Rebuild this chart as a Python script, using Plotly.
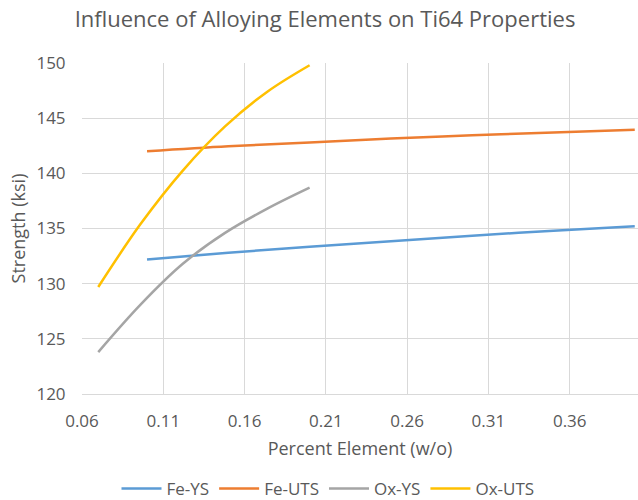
import plotly.graph_objects as go

# Data
fe_x = [0.10, 0.15, 0.20, 0.25, 0.30, 0.35, 0.40]
fe_ys = [132.2, 132.8, 133.35, 133.85, 134.35, 134.8, 135.2]
fe_uts = [142.0, 142.45, 142.8, 143.15, 143.45, 143.7, 143.95]

ox_x = [0.07, 0.096, 0.122, 0.148, 0.174, 0.20]
ox_ys = [123.8, 128.1, 131.8, 134.6, 136.8, 138.7]
ox_uts = [129.7, 135.4, 140.25, 144.25, 147.4, 149.8]

series_names = ["Fe-YS", "Fe-UTS", "Ox-YS", "Ox-UTS"]
colors = ["#5B9BD5", "#ED7D31", "#A5A5A5", "#FFC000"]

x_tick_vals = [0.06, 0.11, 0.16, 0.21, 0.26, 0.31, 0.36]
x_tick_text = ["0.06", "0.11", "0.16", "0.21", "0.26", "0.31", "0.36"]
y_tick_vals = [120, 125, 130, 135, 140, 145, 150]

font_family = "Open Sans"
txt_color = "#595959"

fig = go.Figure()
data = [(fe_x, fe_ys), (fe_x, fe_uts), (ox_x, ox_ys), (ox_x, ox_uts)]
for (xs, ys), name, c in zip(data, series_names, colors):
    fig.add_trace(go.Scatter(
        x=xs, y=ys, name=name, mode="lines",
        line=dict(color=c, width=2.5, shape="spline", smoothing=1.0),
    ))

fig.update_layout(
    width=638, height=500,
    paper_bgcolor="white", plot_bgcolor="white",
    margin=dict(l=82, r=0, t=63, b=106),
    font=dict(family=font_family, size=18, color=txt_color),
    title=dict(
        text="Influence of Alloying Elements on Ti64 Properties",
        x=325 / 638, xref="container", xanchor="center",
        y=1 - 19 / 500, yref="container", yanchor="middle",
        font=dict(family=font_family, size=22, color=txt_color),
    ),
    xaxis=dict(
        range=[0.06, 0.402],
        tickvals=x_tick_vals, ticktext=x_tick_text,
        showgrid=True, gridcolor="#D9D9D9", gridwidth=1,
        zeroline=False, showline=True, linecolor="#D9D9D9", linewidth=1,
        ticks="outside", ticklen=12, tickcolor="rgba(0,0,0,0)",
        tickfont=dict(size=17, color=txt_color),
        title=dict(text="Percent Element (w/o)", font=dict(size=18, color=txt_color), standoff=10),
    ),
    yaxis=dict(
        range=[120, 150],
        tickvals=y_tick_vals,
        showgrid=True, gridcolor="#D9D9D9", gridwidth=1,
        zeroline=False, showline=False,
        ticks="outside", ticklen=12, tickcolor="rgba(0,0,0,0)",
        tickfont=dict(size=17, color=txt_color),
        title=dict(text="Strength (ksi)", font=dict(size=18, color=txt_color), standoff=6),
    ),
    legend=dict(
        orientation="h",
        xref="container", yref="container",
        x=328 / 638, xanchor="center",
        y=1 - 489 / 500, yanchor="middle",
        font=dict(size=17, color=txt_color),
        itemwidth=40, tracegroupgap=0,
    ),
    showlegend=True,
)

fig.write_html("out.html")
